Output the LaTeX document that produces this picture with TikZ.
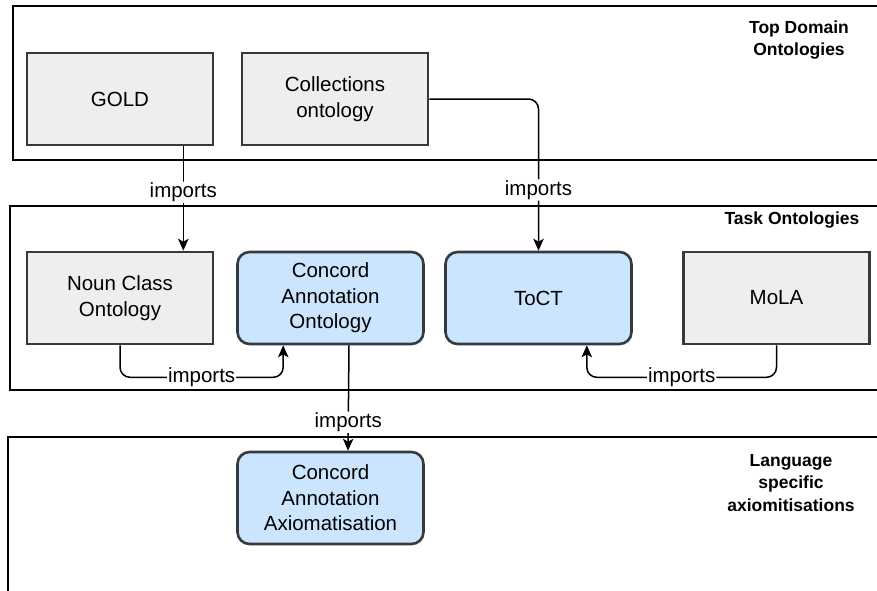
\documentclass[tikz,border=0pt]{standalone}
\usepackage{fontspec}
\setmainfont{Liberation Sans}
\usetikzlibrary{arrows.meta,calc}

\definecolor{boxline}{HTML}{36393D}
\definecolor{greyfill}{HTML}{EEEEEE}
\definecolor{bluefill}{HTML}{CCE5FF}

\begin{document}
\begin{tikzpicture}[x=1pt,y=-1pt,
  layer/.style={draw=black,line width=1.5pt},
  onto/.style={draw=boxline,line width=2.6pt,minimum width=186pt,minimum height=92pt,
    inner sep=0pt,align=center,font=\fontsize{20.5}{25.5}\selectfont},
  plainonto/.style={onto,fill=greyfill},
  taskonto/.style={onto,fill=bluefill,rounded corners=12pt},
  layertitle/.style={align=center,font=\bfseries\fontsize{17.5}{22.5}\selectfont},
  link/.style={draw=black,line width=1.5pt,rounded corners=10pt,
    -{Stealth[length=12pt,width=10.5pt,inset=3pt]}},
  rel/.style={fill=white,inner sep=1pt,font=\fontsize{20.5}{24}\selectfont}
]
\useasboundingbox (0,0) rectangle (877,590);
\clip (0,0) rectangle (877,590);

% layers
\draw[layer] (13,6) rectangle (900,160);
\draw[layer] (10,206) rectangle (900,390);
\draw[layer] (8,437) rectangle (900,620);

\node[layertitle] (toptitle) at (799,40) {Top Domain\\Ontologies};
\node[layertitle] (tasktitle) at (792,220) {Task Ontologies};
\node[layertitle] (langtitle) at (791,483) {Language\\specific\\axiomitisations};

% ontologies
\node[plainonto] (gold) at (120,99) {GOLD};
\node[plainonto] (coll) at (335,99) {Collections\\ontology};
\node[plainonto] (noun) at (120,298) {Noun Class\\Ontology};
\node[taskonto] (concord) at (330.5,298) {Concord\\Annotation\\Ontology};
\node[taskonto] (toct) at (538.5,298) {ToCT};
\node[plainonto] (mola) at (776.5,298) {MoLA};
\node[taskonto] (axiom) at (330.5,498) {Concord\\Annotation\\Axiomatisation};

% imports relations
\draw[link] ([xshift=-31pt]gold.south east) -- ([xshift=-31pt]noun.north east)
  node[rel,pos=0.44] {imports};
\draw[link] (coll.east) -| (toct.north)
  node[rel,pos=0.8] {imports};
\draw[link] (noun.south) -- ++(0,32) -| ([xshift=47pt]concord.south west)
  node[rel,pos=0.25] {imports};
\draw[link] (mola.south) -- ++(0,32) -| ([xshift=-46pt]toct.south east)
  node[rel,pos=0.25] {imports};
\draw[link] ([xshift=18.5pt]concord.south) -- ([xshift=17.5pt]axiom.north)
  node[rel,pos=0.73] {imports};
\end{tikzpicture}
\end{document}
